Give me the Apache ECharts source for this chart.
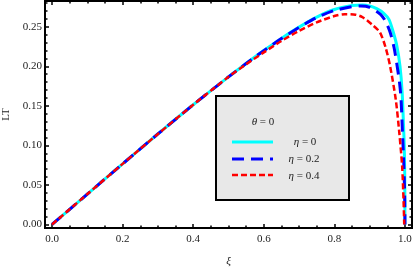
<!DOCTYPE html>
<html><head><meta charset="utf-8">
<script src="https://cdn.jsdelivr.net/npm/echarts@6/dist/echarts.min.js"></script>
<style>html,body{margin:0;padding:0;background:#fff}#c{width:415px;height:268px}</style>
</head><body><div id="c"></div>
<script>
// ---- data ----
const xiTicks = [0, 0.2, 0.4, 0.6, 0.8, 1.0];
const xiMinor = [0.05,0.1,0.15,0.25,0.3,0.35,0.45,0.5,0.55,0.65,0.7,0.75,0.85,0.9,0.95];
const ltTicks = [0, 0.05, 0.1, 0.15, 0.2, 0.25];
const ltMinor = [0.01,0.02,0.03,0.04,0.06,0.07,0.08,0.09,0.11,0.12,0.13,0.14,0.16,0.17,0.18,0.19,0.21,0.22,0.23,0.24,0.26,0.27,0.28];

const xiEta0 = [0,0.1,0.2,0.3,0.4,0.5,0.55,0.6,0.65,0.7,0.75,0.8,0.85,0.88,0.9,0.92,0.94,0.955,0.967,0.977,0.986,0.992,0.996,0.998,0.9995,1.0];
const ltEta0 = [0,0.0384,0.0766,0.1144,0.1513,0.1866,0.2035,0.2198,0.2352,0.2495,0.2622,0.2718,0.2768,0.2775,0.2762,0.2728,0.267,0.259,0.243,0.226,0.200,0.168,0.125,0.10,0.06,0];

const xiEta02 = [0,0.1,0.2,0.3,0.4,0.5,0.55,0.6,0.65,0.7,0.75,0.8,0.85,0.875,0.9,0.93,0.945,0.958,0.969,0.978,0.985,0.989,0.993,0.997,0.9995,1.0];
const ltEta02 = [0,0.0384,0.0766,0.1144,0.1513,0.1866,0.2035,0.2197,0.235,0.2492,0.2616,0.2705,0.2752,0.2762,0.2745,0.266,0.257,0.243,0.224,0.200,0.178,0.158,0.116,0.074,0.031,0];

const xiEta04 = [0,0.1,0.2,0.3,0.4,0.5,0.55,0.6,0.65,0.7,0.75,0.8,0.83,0.86,0.88,0.906,0.929,0.945,0.958,0.974,0.984,0.992,0.996,0.998];
const ltEta04 = [0,0.0384,0.0766,0.1144,0.1513,0.1866,0.2025,0.2175,0.232,0.2448,0.2555,0.2635,0.2658,0.2652,0.262,0.253,0.243,0.224,0.200,0.158,0.116,0.074,0.031,0];

const seriesNames = ['η = 0', 'η = 0.2', 'η = 0.4'];
// ----------------------------------------

const pairs = (xs, ys) => xs.map((x, i) => [x, ys[i]]);
const FONT = 'Liberation Serif';
const XMIN = -0.02, XMAX = 1.02, YMIN = -0.0045, YMAX = 0.2825;

function xAx(pos, ticks, len, labels) {
  return {
    type: 'value', min: XMIN, max: XMAX, position: pos, gridIndex: 0,
    splitLine: {show: false},
    axisLine: {show: true, onZero: false, lineStyle: {color: '#000', width: 2}},
    axisTick: {show: true, inside: true, length: len, customValues: ticks, lineStyle: {color: '#000', width: 1.5}},
    axisLabel: labels ? {show: true, customValues: ticks, margin: 6, color: '#222', fontFamily: FONT, fontSize: 11,
      formatter: v => v.toFixed(1)} : {show: false},
  };
}
function yAx(pos, ticks, len, labels) {
  return {
    type: 'value', min: YMIN, max: YMAX, position: pos, gridIndex: 0,
    splitLine: {show: false},
    axisLine: {show: true, onZero: false, lineStyle: {color: '#000', width: 2}},
    axisTick: {show: true, inside: true, length: len, customValues: ticks, lineStyle: {color: '#000', width: 1.5}},
    axisLabel: labels ? {show: true, customValues: ticks, margin: 3, color: '#222', fontFamily: FONT, fontSize: 11,
      formatter: v => v.toFixed(2)} : {show: false},
  };
}

const xAxes = [xAx('bottom', xiTicks, 4, true), xAx('bottom', xiMinor, 2.5, false),
               xAx('top', xiTicks, 4, false), xAx('top', xiMinor, 2.5, false)];
xAxes[0].name = 'ξ'; xAxes[0].nameLocation = 'middle'; xAxes[0].nameGap = 28;
xAxes[0].nameTextStyle = {fontFamily: FONT, fontStyle: 'italic', fontSize: 11, color: '#222'};
const yAxes = [yAx('left', ltTicks, 4, true), yAx('left', ltMinor, 2.5, false),
               yAx('right', ltTicks, 4, false), yAx('right', ltMinor, 2.5, false)];
yAxes[0].name = 'LT'; yAxes[0].nameLocation = 'middle'; yAxes[0].nameGap = 30; yAxes[0].nameRotate = 90;
yAxes[0].nameTextStyle = {fontFamily: FONT, fontSize: 11, color: '#222'};

function ser(name, xs, ys, color, width, type) {
  return {name, type: 'line', xAxisIndex: 0, yAxisIndex: 0, data: pairs(xs, ys), showSymbol: false,
    smooth: 0.25, lineStyle: {color, width, type}, animation: false, z: 3};
}

const chart = echarts.init(document.getElementById('c'), null, {renderer: 'canvas'});
const LX0 = 232, LX1 = 273;
chart.setOption({
  animation: false,
  backgroundColor: '#fff',
  grid: {left: 45, right: 3, top: 1, bottom: 40, containLabel: false, outerBoundsMode: 'none'},
  xAxis: xAxes,
  yAxis: yAxes,
  series: [
    ser(seriesNames[0], xiEta0, ltEta0, '#00FFFF', 3, 'solid'),
    ser(seriesNames[1], xiEta02, ltEta02, '#0000FF', 3, [12, 7]),
    ser(seriesNames[2], xiEta04, ltEta04, '#FF0000', 2.5, [6, 3]),
  ],
  graphic: [
    {type: 'rect', shape: {x: 216, y: 96, width: 133, height: 104}, style: {fill: '#e8e8e8', stroke: '#000', lineWidth: 2}, z: 10},
    {type: 'text', x: 263, y: 122, style: {text: '{i|θ} = 0', rich: {i: {fontStyle: 'italic', fontFamily: FONT, fontSize: 11}}, fontFamily: FONT, fontSize: 11, fill: '#222', align: 'center', verticalAlign: 'middle'}, z: 11},
    {type: 'line', shape: {x1: LX0, y1: 142, x2: LX1, y2: 142}, style: {stroke: '#00FFFF', lineWidth: 3}, z: 11},
    {type: 'line', shape: {x1: LX0, y1: 159, x2: LX1, y2: 159}, style: {stroke: '#0000FF', lineWidth: 3, lineDash: [12, 7]}, z: 11},
    {type: 'line', shape: {x1: LX0, y1: 175, x2: LX1, y2: 175}, style: {stroke: '#FF0000', lineWidth: 2.5, lineDash: [6, 3]}, z: 11},
    {type: 'text', x: 305, y: 142, style: {text: '{i|η} = 0', rich: {i: {fontStyle: 'italic', fontFamily: FONT, fontSize: 11}}, fontFamily: FONT, fontSize: 11, fill: '#222', align: 'center', verticalAlign: 'middle'}, z: 11},
    {type: 'text', x: 304, y: 159, style: {text: '{i|η} = 0.2', rich: {i: {fontStyle: 'italic', fontFamily: FONT, fontSize: 11}}, fontFamily: FONT, fontSize: 11, fill: '#222', align: 'center', verticalAlign: 'middle'}, z: 11},
    {type: 'text', x: 304, y: 176, style: {text: '{i|η} = 0.4', rich: {i: {fontStyle: 'italic', fontFamily: FONT, fontSize: 11}}, fontFamily: FONT, fontSize: 11, fill: '#222', align: 'center', verticalAlign: 'middle'}, z: 11},
  ],
});
</script>
</body></html>
